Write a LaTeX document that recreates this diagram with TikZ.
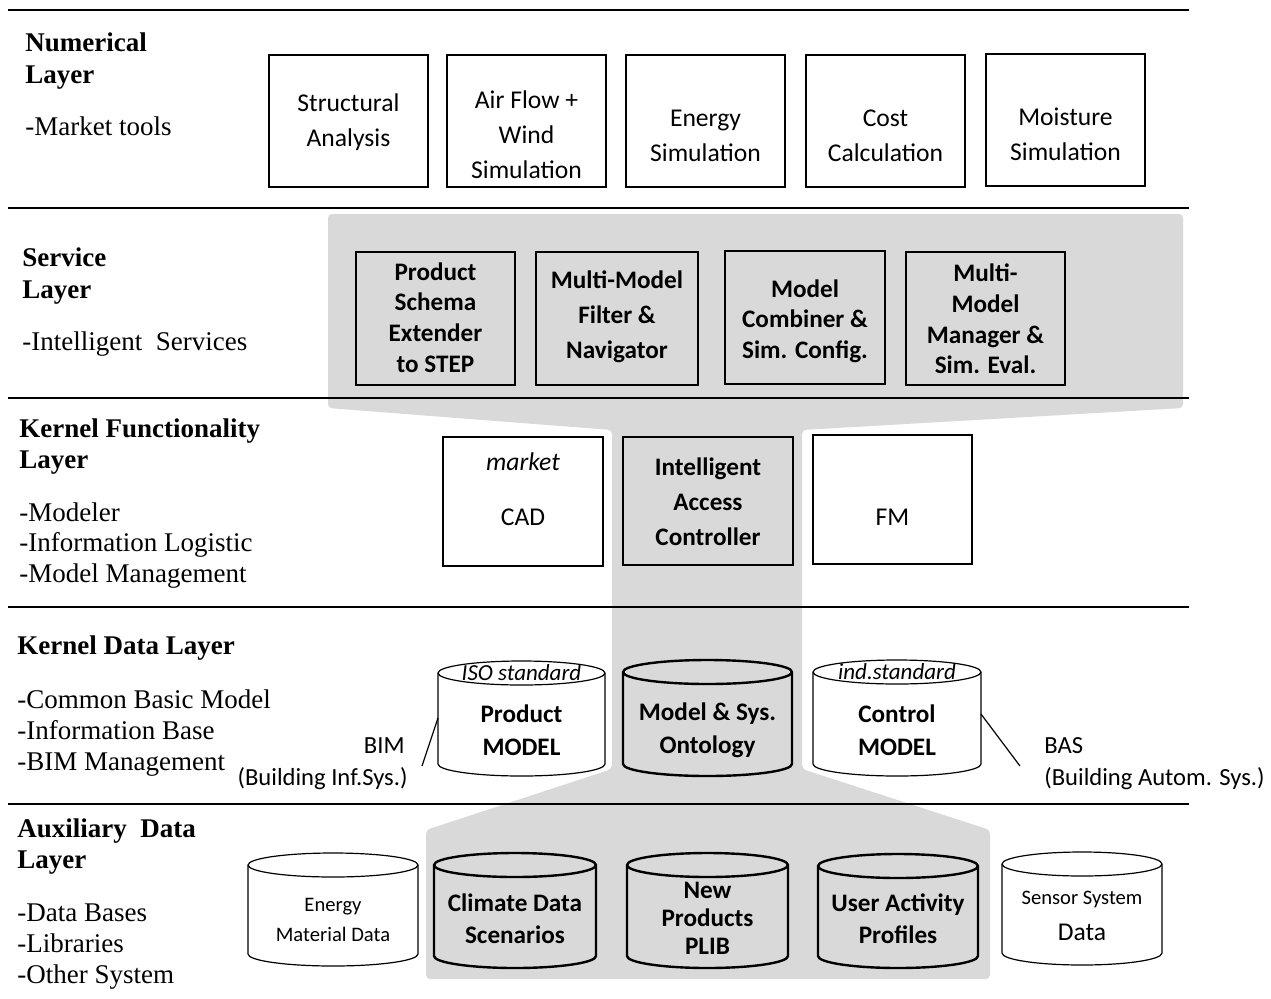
\documentclass[tikz,border=0pt]{standalone}
\usepackage{fontspec}
\setmainfont{Liberation Serif}
\newfontfamily\carl{Carlito}
\usetikzlibrary{fit}
\definecolor{gfill}{HTML}{D9D9D9}
\newcommand{\drawcyl}[6]{%
  \pgfmathsetmacro\cylxm{(#2+#3)/2}%
  \pgfmathsetmacro\cylrx{(#3-#2)/2}%
  \pgfmathsetmacro\cylA{#4+#6}%
  \pgfmathsetmacro\cylB{#5-#6}%
  \pgfmathsetmacro\cylkx{0.5523*\cylrx}%
  \pgfmathsetmacro\cylky{0.5523*#6}%
  \path[#1] (#2,\cylA) -- (#2,\cylB) .. controls (#2,\cylB+\cylky) and (\cylxm-\cylkx,#5) .. (\cylxm,#5)
     .. controls (\cylxm+\cylkx,#5) and (#3,\cylB+\cylky) .. (#3,\cylB) -- (#3,\cylA)
     .. controls (#3,\cylA-\cylky) and (\cylxm+\cylkx,#4) .. (\cylxm,#4)
     .. controls (\cylxm-\cylkx,#4) and (#2,\cylA-\cylky) .. cycle;
  \path[#1,fill=none] (#2,\cylA) .. controls (#2,\cylA+\cylky) and (\cylxm-\cylkx,\cylA+#6) .. (\cylxm,\cylA+#6)
     .. controls (\cylxm+\cylkx,\cylA+#6) and (#3,\cylA+\cylky) .. (#3,\cylA);
}
\begin{document}
\begin{tikzpicture}[x=0.5pt,y=-0.5pt,
  lay/.style={anchor=west,inner sep=0pt,font=\bfseries\fontsize{13.5}{15.5}\selectfont,text height=0.66em,text depth=0pt},
  laysub/.style={anchor=west,inner sep=0pt,font=\fontsize{13.5}{15.5}\selectfont,text height=0.66em,text depth=0pt},
  layline/.style={line width=1pt},
  thinbox/.style={draw,line width=0.7pt,fill=white,inner sep=0pt},
  thickbox/.style={draw,line width=1.2pt,fill=gfill,inner sep=0pt},
  thincyl/.style={draw,line width=0.6pt,fill=white},
  thickcyl/.style={draw,line width=1.2pt,fill=gfill},
  ntxt/.style={align=center,inner sep=0pt,font=\carl\fontsize{12.8}{17.5}\selectfont},
  btxt/.style={align=center,inner sep=0pt,font=\carl\bfseries\fontsize{12.6}{15.3}\selectfont},
  itxt/.style={inner sep=0pt,font=\carl\itshape\fontsize{11.5}{13}\selectfont},
  stxt/.style={align=center,inner sep=0pt,font=\carl\fontsize{10.3}{15}\selectfont},
  ltxt/.style={inner sep=0pt,font=\carl\fontsize{12.3}{16}\selectfont},
  conn/.style={line width=0.6pt}
]
\path[use as bounding box,fill=white] (0,0) rectangle (1271,998);

% gray funnel
\fill[gfill,rounded corners=2pt] (328,214) -- (1183,214) -- (1183,408) -- (802,430) -- (802,769)
  -- (990,830) -- (990,979) -- (426,979) -- (426,830) -- (612,769) -- (612,430) -- (328,408) -- cycle;

% layer separator lines
\draw[layline] (8,10) -- (1189,10);
\draw[layline] (8,208) -- (1189,208);
\draw[layline] (8,398) -- (1189,398);
\draw[layline] (8,607) -- (1189,607);
\draw[layline] (8,804) -- (1189,804);

% left column
\node[lay] (numA) at (25,45) {Numerical};
\node[lay] (numB) at (25,77) {Layer};
\node[laysub] (numC) at (25,129) {-Market tools};
\node[lay] (srvA) at (22,260) {Service};
\node[lay] (srvB) at (22,292) {Layer};
\node[laysub] (srvC) at (22,344) {-Intelligent\ \ Services};
\node[lay] (kfA) at (19,431) {Kernel Functionality};
\node[lay] (kfB) at (19,462) {Layer};
\node[laysub] (kfC) at (19,515) {-Modeler};
\node[laysub] (kfD) at (19,545) {-Information Logistic};
\node[laysub] (kfE) at (19,576) {-Model Management};
\node[lay] (kdA) at (17,648) {Kernel Data Layer};
\node[laysub] (kdB) at (17,702) {-Common Basic Model};
\node[laysub] (kdC) at (17,733) {-Information Base};
\node[laysub] (kdD) at (17,764) {-BIM Management};
\node[lay] (auA) at (17,831) {Auxiliary\ \ Data};
\node[lay] (auB) at (17,862) {Layer};
\node[laysub] (auC) at (17,915) {-Data Bases};
\node[laysub] (auD) at (17,946) {-Libraries};
\node[laysub] (auE) at (17,977) {-Other System};

% numerical layer boxes
\node[thinbox,fit={(269,55) (428,187)}] (sa) {};
\node[thinbox,fit={(447,55) (606,187)}] (af) {};
\node[thinbox,fit={(626,55) (785,187)}] (es) {};
\node[thinbox,fit={(806,55) (965,187)}] (cc) {};
\node[thinbox,fit={(986,54) (1145,186)}] (ms) {};
\node[ntxt] (saT) at (348.5,122.5) {Structural\\Analysis};
\node[ntxt] (afT) at (526.5,135) {Air Flow +\\Wind\\Simulation};
\node[ntxt] (esT) at (705.5,135.5) {Energy\\Simulation};
\node[ntxt] (ccT) at (885.5,135.5) {Cost\\Calculation};
\node[ntxt] (msT) at (1065.5,134.5) {Moisture\\Simulation};

% service layer boxes
\node[thickbox,fit={(356,252) (515,385)}] (ps) {};
\node[thickbox,fit={(536,252) (698,385)}] (mf) {};
\node[thickbox,fit={(725,251) (885,384)}] (mc) {};
\node[thickbox,fit={(906,252) (1065,385)}] (mm) {};
\node[btxt] (psT) at (435.5,317.5) {Product\\Schema\\Extender\\to STEP};
\node[btxt,font=\carl\bfseries\fontsize{12.6}{17.5}\selectfont] (mfT) at (617,317) {Multi-Model\\Filter \&\\Navigator};
\node[btxt] (mcT) at (805,321) {Model\\Combiner \&\\Sim. Config.};
\node[btxt] (mmT) at (985.5,319) {Multi-\\Model\\Manager \&\\Sim. Eval.};

% kernel functionality boxes
\node[thinbox,fit={(443,437) (603,566)}] (cad) {};
\node[thickbox,fit={(623,437) (793,565)}] (iac) {};
\node[thinbox,fit={(813,435) (972,564)}] (fm) {};
\node[itxt,font=\carl\itshape\fontsize{12.8}{15}\selectfont] (cadA) at (523,462) {market};
\node[ntxt] (cadB) at (523,517) {CAD};
\node[btxt,font=\carl\bfseries\fontsize{12.6}{17.5}\selectfont] (iacT) at (708,502) {Intelligent\\Access\\Controller};
\node[ntxt] (fmT) at (892.5,517) {FM};

% kernel data cylinders
\drawcyl{thincyl}{438}{605}{661}{776}{12}
\drawcyl{thickcyl}{623}{792}{660}{776}{12}
\drawcyl{thincyl}{813}{981}{660}{776}{12}
\node[itxt] (pmI) at (521.5,673) {ISO standard};
\node[btxt,font=\carl\bfseries\fontsize{12.6}{16.5}\selectfont] (pm) at (521.5,730) {Product\\MODEL};
\node[btxt,font=\carl\bfseries\fontsize{12.6}{16.5}\selectfont] (on) at (707.5,730) {Model \& Sys.\\Ontology};
\node[itxt] (cmI) at (897,672) {ind.standard};
\node[btxt,font=\carl\bfseries\fontsize{12.6}{16.5}\selectfont] (cm) at (897,730) {Control\\MODEL};

% BIM / BAS labels
\node[ltxt,anchor=east] (bim) at (405,746) {BIM};
\node[ltxt,anchor=east] (bimL) at (408,779) {(Building Inf.Sys.)};
\node[ltxt,anchor=west] (bas) at (1044,746) {BAS};
\node[ltxt,anchor=west] (basL) at (1044,779) {(Building Autom. Sys.)};
\coordinate (bimE) at (422,766);
\coordinate (bimS) at (438,718);
\coordinate (basS) at (981,714);
\coordinate (basE) at (1020,766);
\draw[conn] (bimE) -- (bimS);
\draw[conn] (basS) -- (basE);

% auxiliary cylinders
\drawcyl{thincyl}{248}{418}{853}{966}{12}
\drawcyl{thickcyl}{434}{596}{853}{968}{12}
\drawcyl{thickcyl}{627}{788}{853}{968}{12}
\drawcyl{thickcyl}{818}{978}{854}{968}{12}
\drawcyl{thincyl}{1002}{1162}{852}{965}{12}
\node[stxt] (em) at (333,920) {Energy\\Material Data};
\node[btxt,font=\carl\bfseries\fontsize{12.6}{16}\selectfont] (cd) at (515,919) {Climate Data\\Scenarios};
\node[btxt,font=\carl\bfseries\fontsize{12.6}{14}\selectfont] (np) at (707.5,918) {New\\Products\\PLIB};
\node[btxt,font=\carl\bfseries\fontsize{12.6}{16}\selectfont] (ua) at (898,919) {User Activity\\Profiles};
\node[stxt] (ssA) at (1082,899) {Sensor System};
\node[ntxt] (ssB) at (1082,932) {Data};
\end{tikzpicture}
\end{document}
